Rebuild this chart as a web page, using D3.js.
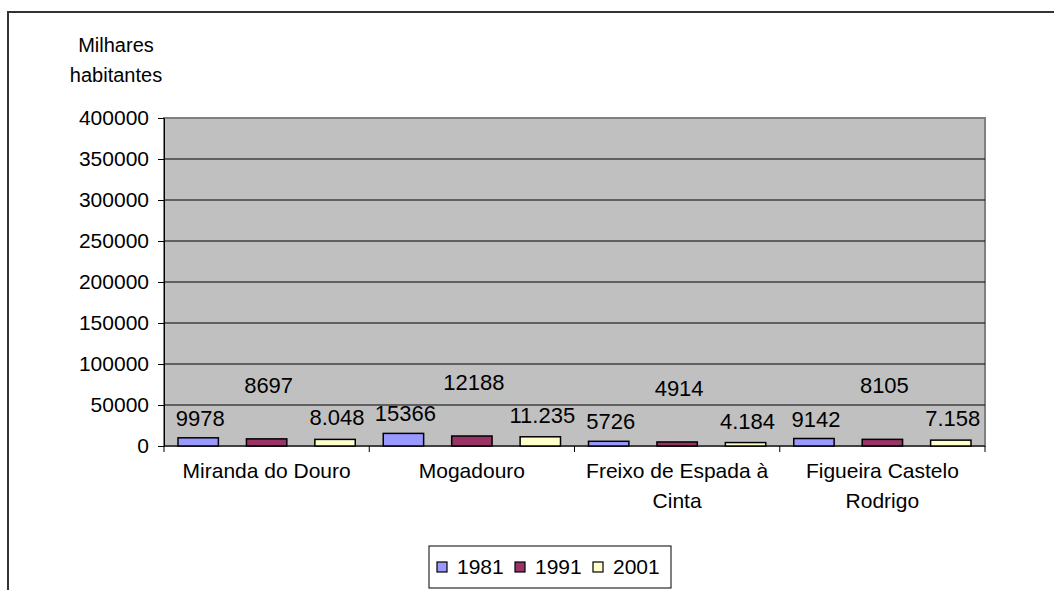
<!DOCTYPE html>
<html>
<head>
<meta charset="utf-8">
<script src="https://cdn.jsdelivr.net/npm/d3@7"></script>
<style>
  body { margin: 0; background: #fff; }
  text { font-family: "Liberation Sans", Arial, sans-serif; fill: #000; }
</style>
</head>
<body>
<svg width="1054" height="590"></svg>
<script>
// population per municipality, census years
const categories = [["Miranda do Douro"], ["Mogadouro"], ["Freixo de Espada à", "Cinta"], ["Figueira Castelo", "Rodrigo"]];
const years = ["1981", "1991", "2001"];
const values1981 = [9978, 15366, 5726, 9142];
const values1991 = [8697, 12188, 4914, 8105];
const values2001 = [8048, 11235, 4184, 7158];
const yTicks = [0, 50000, 100000, 150000, 200000, 250000, 300000, 350000, 400000];

const series = [values1981, values1991, values2001];
const colors = ["#9999ff", "#993366", "#ffffcc"];

var svg = d3.select("svg");

// outer chart frame (runs past the picture on the right and bottom)
svg.append("rect")
    .attr("x", 8).attr("y", 12)
    .attr("width", 1080).attr("height", 620)
    .attr("fill", "none").attr("stroke", "#333").attr("stroke-width", 2);

var plotL = 164, plotR = 985, plotT = 118, plotB = 446;

var x0 = d3.scaleBand()
    .domain(d3.range(categories.length))
    .range([plotL, plotR])
    .padding(0);

var x1 = d3.scaleBand()
    .domain(d3.range(years.length))
    .range([14, x0.bandwidth() - 14])
    .paddingInner(0.41)
    .paddingOuter(0);

var y = d3.scaleLinear().domain([0, 400000]).range([plotB, plotT]);

// plot area
svg.append("rect")
    .attr("x", plotL).attr("y", plotT)
    .attr("width", plotR - plotL).attr("height", plotB - plotT)
    .attr("fill", "#c0c0c0").attr("stroke", "#808080").attr("stroke-width", 2);

// gridlines
svg.append("g").selectAll("line")
    .data(yTicks.slice(1, -1))
    .enter().append("line")
    .attr("x1", plotL).attr("x2", plotR)
    .attr("y1", d => y(d)).attr("y2", d => y(d))
    .attr("stroke", "#000").attr("stroke-width", 1);

// y axis
var yAxis = svg.append("g")
    .attr("transform", "translate(" + plotL + ",0)")
    .call(d3.axisLeft(y).tickValues(yTicks).tickFormat(d3.format("d")).tickSize(6).tickPadding(9));
yAxis.select(".domain").attr("stroke", "#000");
yAxis.selectAll(".tick line").attr("stroke", "#000");
yAxis.selectAll("text").style("font-size", "21px").attr("fill", "#000");

// x axis baseline and category ticks
svg.append("line")
    .attr("x1", plotL).attr("x2", plotR)
    .attr("y1", plotB).attr("y2", plotB)
    .attr("stroke", "#000");
svg.append("g").selectAll("line")
    .data(d3.range(categories.length + 1))
    .enter().append("line")
    .attr("x1", d => plotL + d * x0.step()).attr("x2", d => plotL + d * x0.step())
    .attr("y1", plotB).attr("y2", plotB + 6)
    .attr("stroke", "#000");

// category labels
var cat = svg.append("g").selectAll("text")
    .data(categories)
    .enter().append("text")
    .attr("x", (d, i) => x0(i) + x0.bandwidth() / 2)
    .attr("y", 478)
    .style("text-anchor", "middle")
    .style("font-size", "21px");
cat.selectAll("tspan")
    .data(d => d)
    .enter().append("tspan")
    .attr("x", function () { return this.parentNode.getAttribute("x"); })
    .attr("dy", (d, i) => i === 0 ? 0 : 30)
    .text(d => d);

// bars
var fmtPlain = d3.format("d");
var fmtDot = d3.formatLocale({ decimal: ",", thousands: ".", grouping: [3], currency: ["", ""] }).format(",d");
var labelFormats = [fmtPlain, fmtPlain, fmtDot];
var labelOffsets = [12, 46, 14];

series.forEach(function (vals, s) {
    var g = svg.append("g");
    g.selectAll("rect")
        .data(vals)
        .enter().append("rect")
        .attr("x", (d, i) => x0(i) + x1(s))
        .attr("y", d => y(d))
        .attr("width", x1.bandwidth())
        .attr("height", d => plotB - y(d))
        .attr("fill", colors[s])
        .attr("stroke", "#000")
        .attr("stroke-width", 1.5);
    g.selectAll("text")
        .data(vals)
        .enter().append("text")
        .attr("x", (d, i) => x0(i) + x1(s) + x1.bandwidth() / 2 + 2)
        .attr("y", d => y(d) - labelOffsets[s])
        .style("text-anchor", "middle")
        .style("font-size", "22px")
        .text(d => labelFormats[s](d));
});

// axis title
svg.append("text")
    .attr("x", 116).attr("y", 52)
    .style("text-anchor", "middle").style("font-size", "20px")
    .text("Milhares");
svg.append("text")
    .attr("x", 116).attr("y", 82)
    .style("text-anchor", "middle").style("font-size", "20px")
    .text("habitantes");

// legend
var legend = svg.append("g");
legend.append("rect")
    .attr("x", 429).attr("y", 546)
    .attr("width", 242).attr("height", 42)
    .attr("fill", "#fff").attr("stroke", "#000");
var legendX = [437, 515, 593];
years.forEach(function (yr, i) {
    legend.append("rect")
        .attr("x", legendX[i]).attr("y", 562)
        .attr("width", 10).attr("height", 10)
        .attr("fill", colors[i]).attr("stroke", "#000").attr("stroke-width", 1.2);
    legend.append("text")
        .attr("x", legendX[i] + 20).attr("y", 574)
        .style("font-size", "21px")
        .text(yr);
});
</script>
</body>
</html>
